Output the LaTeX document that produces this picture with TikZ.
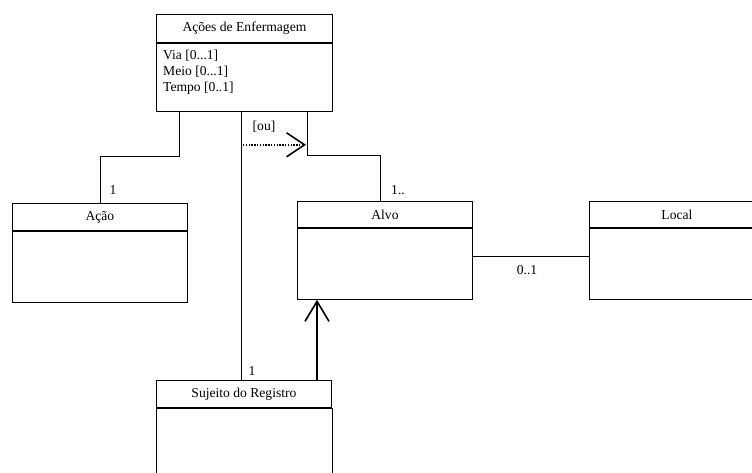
\documentclass[tikz,border=0pt]{standalone}
\usepackage{fontspec}
\setmainfont{Liberation Serif}
\usepackage{tikz}
\usetikzlibrary{positioning,calc,arrows.meta}

\begin{document}
\begin{tikzpicture}[
		x=1pt, y=-1pt,
		font=\fontsize{13.6}{16}\selectfont,
		classhead/.style={draw, line width=0.9pt, minimum width=175, minimum height=27, inner sep=0pt, anchor=north west},
		classbody/.style={draw, line width=0.9pt, minimum width=175, minimum height=71, inner sep=0pt},
		attrtext/.style={align=left, inner sep=0pt, anchor=north west},
		mult/.style={inner sep=1pt},
		assoc/.style={line width=0.9pt},
		orArrow/.style={-{Straight Barb[length=18pt, width=24pt, line width=1.6pt]}, line width=1.8pt, dash pattern=on 1.4pt off 1.4pt},
		genArrow/.style={-{Straight Barb[length=20pt, width=24pt, line width=1.6pt]}, line width=1.6pt}
		]
		\useasboundingbox (0,0) rectangle (752,472);
		\clip (0,0) rectangle (752,472);
		
		% ===== ACOES DE ENFERMAGEM =====
		\node[classhead, minimum width=176, minimum height=28] (acoesHead) at (156,14) {Ações de Enfermagem};
		\node[classbody, minimum width=176, minimum height=68, below=0pt of acoesHead] (acoesBody) {};
		\node[attrtext] (acoesAttr) at (163,50) {Via [0...1]\\Meio [0...1]\\Tempo [0..1]};
		
		% ===== CLASSES (linha do meio) =====
		\node[classhead] (acaoHead) at (12,203) {Ação};
		\node[classbody, below=0pt of acaoHead] (acaoBody) {};
		
		\node[classhead, minimum height=26] (alvoHead) at (297,201) {Alvo};
		\node[classbody, below=0pt of alvoHead] (alvoBody) {};
		
		\node[classhead, minimum height=26] (localHead) at (589,201) {Local};
		\node[classbody, below=0pt of localHead] (localBody) {};
		
		% ===== SUJEITO DO REGISTRO (cortado embaixo) =====
		\node[classhead] (sujeitoHead) at (156,380) {Sujeito do Registro};
		\node[classbody, minimum width=176, minimum height=100, below=0pt of sujeitoHead] (sujeitoBody) {};
		
		% ===== ASSOCIACOES =====
		\draw[assoc] (acaoHead.north) |- ($(acoesBody.south west)+(23,45)$) -- ($(acoesBody.south west)+(23,0)$);
		\draw[assoc] ($(acoesBody.south west)+(85,0)$) -- ($(sujeitoHead.north west)+(85,0)$);
		\draw[assoc] ($(acoesBody.south west)+(151,0)$) |- ($(alvoHead.north west)+(83,-46)$) -- ($(alvoHead.north west)+(83,0)$);
		\draw[assoc] ($(alvoBody.north east)+(0,29)$) -- ($(localBody.north west)+(0,29)$);
		
		% ===== SETAS =====
		\draw[orArrow] ($(acoesBody.south west)+(87,33)$) -- ($(acoesBody.south west)+(150,33)$);
		\node[mult] (orLabel) at (264,127) {[ou]};
		\draw[genArrow] ($(sujeitoHead.north west)+(161,0)$) -- ($(alvoBody.south west)+(20,0)$);
		
		% ===== MULTIPLICIDADES =====
		\node[mult] (multAcao) at (113,190) {1};
		\node[mult] (multAlvo) at (398,190) {1..};
		\node[mult] (multLocal) at (527,270) {0..1};
		\node[mult] (multSujeito) at (252,371) {1};
		
	\end{tikzpicture}
\end{document}
